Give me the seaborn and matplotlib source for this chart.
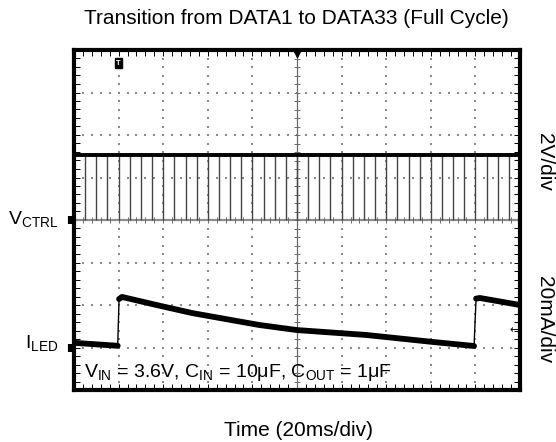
import numpy as np
import pandas as pd
import matplotlib
matplotlib.use("Agg")
import matplotlib.pyplot as plt
import seaborn as sns

# ---------------- data ----------------
title = "Transition from DATA1 to DATA33 (Full Cycle)"
xlabel = "Time (20ms/div)"
# VCTRL: high level (V) and the times (ms) of the narrow low pulses
vctrl_high_v = 3.05
pulse_times_ms = [5, 10, 15, 20, 25, 30, 35, 40, 45, 50, 55, 60, 65, 70, 75, 80,
                  85, 90, 95, 100, 105, 110, 115, 120, 125, 130, 135, 140, 145,
                  150, 155, 160, 165, 170, 175, 180, 185, 190, 195]
# ILED trace (ms, mA)
iled_t_ms = [0, 19.6, 20.2, 21.5, 37, 53, 83, 100, 131, 161, 179.4, 180.3, 182, 200]
iled_ma = [2.2, 0.8, 22.8, 23.8, 20.0, 16.2, 10.6, 8.2, 5.9, 2.6, 0.7, 23.0, 23.3, 20.0]
iled_seg = [0, 0, 1, 1, 1, 1, 1, 1, 1, 1, 1, 2, 2, 2]

# scope scales
v_per_div = 2.0
ma_per_div = 20.0
vctrl_ground_div = 0.0
iled_ground_div = -3.0

# ---------------- style ----------------
sns.set_style("white")
plt.rcParams['font.family'] = ['Liberation Sans', 'DejaVu Sans']
plt.rcParams['mathtext.fontset'] = 'custom'
plt.rcParams['mathtext.rm'] = 'Liberation Sans'
plt.rcParams['text.color'] = 'black'

W, H = 556, 442
fig = plt.figure(figsize=(W / 100, H / 100), dpi=100)
ax = fig.add_axes([74 / W, 1 - 390 / H, 446 / W, 340 / H])
ax.set_xlim(0, 200)
ax.set_ylim(-4, 4)

# grid dots
gx, gy = [], []
for k in range(1, 10):
    if k == 5:
        continue
    for j in range(-20, 21):
        gx.append(k * 20); gy.append(j / 5)
for k in range(-3, 4):
    if k == 0:
        continue
    for j in range(0, 51):
        gx.append(j * 4); gy.append(k)
ax.scatter(gx, gy, s=0.6, color="#8a8a8a", marker="s", linewidths=0, zorder=1)

# center crosshair with small ticks
ax.axvline(100, color="#6a6a6a", lw=0.9, zorder=1)
ax.axhline(0, color="#8c8c8c", lw=1.6, zorder=1)
ax.plot([100] * 41, [j / 5 for j in range(-20, 21)], ls="none", marker="_",
        ms=5, mew=0.7, color="#6a6a6a", zorder=1)
ax.plot([j * 4 for j in range(0, 51)], [0] * 51, ls="none", marker="|",
        ms=5, mew=0.7, color="#6a6a6a", zorder=1)

# VCTRL trace
hi = vctrl_ground_div + vctrl_high_v / v_per_div
ax.vlines(pulse_times_ms, vctrl_ground_div, hi, color="#444444", lw=1.0, zorder=2)
df_v = pd.DataFrame({"t": [0, 200], "y": [hi, hi]})
sns.lineplot(data=df_v, x="t", y="y", ax=ax, color="black", lw=2.8, zorder=3)

# ILED trace
df_i = pd.DataFrame({"t": iled_t_ms,
                     "y": [iled_ground_div + v / ma_per_div for v in iled_ma],
                     "seg": iled_seg})
sns.lineplot(data=df_i, x="t", y="y", ax=ax, color="black", lw=1.0,
             sort=False, estimator=None, zorder=3)
sns.lineplot(data=df_i, x="t", y="y", units="seg", ax=ax, color="black", lw=4.2,
             sort=False, estimator=None, zorder=3)

# markers
ax.plot([100], [3.93], marker="v", ms=6, color="black", clip_on=False, zorder=5)
ax.plot([-1.8, -1.8], [vctrl_ground_div, iled_ground_div], ls="none", marker="|",
        ms=6, mew=3, color="black", clip_on=False, zorder=5)
ax.text(20, 3.69, "T", fontsize=5.5, fontweight="bold", color="white",
        ha="center", va="center",
        bbox=dict(boxstyle="square,pad=0.2", fc="black", ec="black"), zorder=5)
ax.text(199.5, -2.59, "←", fontsize=8, ha="right", va="center",
        family="DejaVu Sans", zorder=5)

# frame and ticks
for s in ax.spines.values():
    s.set_linewidth(3.0)
    s.set_color("black")
ax.set_xticks(np.arange(0, 201, 20))
ax.set_xticks(np.arange(0, 201, 4), minor=True)
ax.set_yticks(np.arange(-4, 4.01, 1))
ax.set_yticks(np.arange(-4, 4.01, 0.2), minor=True)
ax.tick_params(which="both", direction="in", top=True, right=True, bottom=True,
               left=True, length=4.5, width=0.7, color="black",
               labelbottom=False, labelleft=False)
ax.set_xlabel("")
ax.set_ylabel("")

# texts
fs = 15.0
def fx(x):
    return x / W
def fy(y):
    return 1 - y / H

fig.text(fx(296), fy(24), title, fontsize=fs, ha="center", va="baseline")
fig.text(fx(298), fy(436), xlabel, fontsize=fs, ha="center", va="baseline")
fig.text(fx(545), fy(162), "2V/div", fontsize=fs, rotation=-90,
         ha="center", va="center")
fig.text(fx(545), fy(320), "20mA/div", fontsize=fs, rotation=-90,
         ha="center", va="center")
fig.text(fx(58), fy(225), r"V$_{\mathregular{CTRL}}$", fontsize=14,
         ha="right", va="baseline")
fig.text(fx(58), fy(349), r"I$_{\mathregular{LED}}$", fontsize=14,
         ha="right", va="baseline")
fig.text(fx(84), fy(377),
         r"V$_{\mathregular{IN}}$ = 3.6V, C$_{\mathregular{IN}}$ = 10μF, "
         r"C$_{\mathregular{OUT}}$ = 1μF",
         fontsize=14, ha="left", va="baseline")

fig.savefig("out.png", dpi=100)
